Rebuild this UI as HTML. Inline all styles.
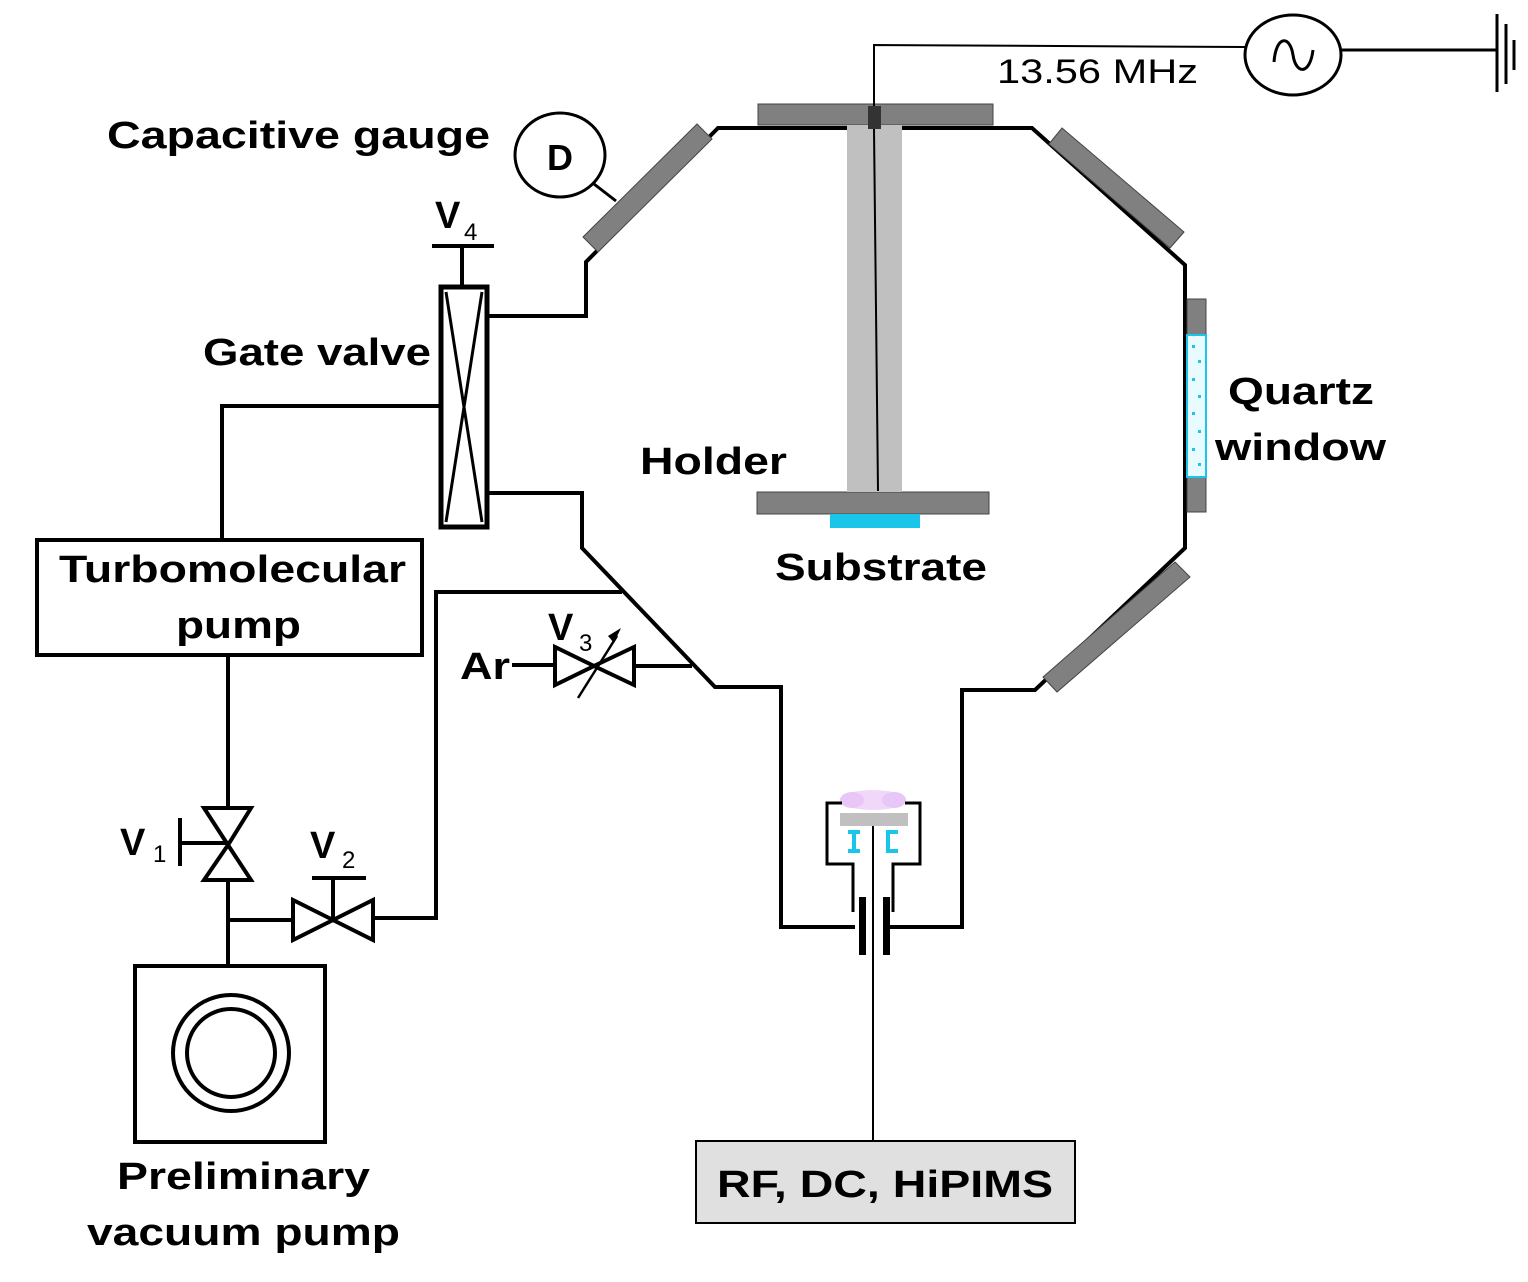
<!DOCTYPE html>
<html><head><meta charset="utf-8"><style>html,body{margin:0;padding:0;background:#fff}svg{display:block}</style></head>
<body>
<svg width="1528" height="1282" viewBox="0 0 1528 1282" xmlns="http://www.w3.org/2000/svg" font-family="Liberation Sans, sans-serif">
<rect width="1528" height="1282" fill="#fff"/>
<g fill="none" stroke="#000" stroke-width="4" stroke-linejoin="miter">
<!-- chamber outline -->
<polyline points="488,316 586,316 586,262 718,128 1032,128 1185,265 1185,548 1035,690 962,690 962,927 890,927"/>
<polyline points="488,493 582,493 582,548 715,687 781,687 781,927 855,927"/>
</g>
<!-- windows -->
<g fill="#808080" stroke="#444" stroke-width="1">
<polygon points="583,237 697,124 712,139 598,252"/>
<polygon points="1062,128 1184,232 1170,248 1049,144"/>
<polygon points="1175,562 1190,577 1057,692 1043,677"/>
<rect x="1187" y="299" width="19" height="213"/>
<rect x="758" y="104" width="235" height="21"/>
<rect x="757" y="492" width="232" height="22"/>
</g>
<rect x="1187" y="335" width="19" height="142" fill="#e8fbff" stroke="#19c6ea" stroke-width="2"/>
<g fill="#19c6ea"><rect x="1192" y="345" width="3" height="3"/><rect x="1198" y="360" width="3" height="3"/><rect x="1192" y="378" width="3" height="3"/><rect x="1198" y="395" width="3" height="3"/><rect x="1192" y="412" width="3" height="3"/><rect x="1198" y="430" width="3" height="3"/><rect x="1192" y="448" width="3" height="3"/><rect x="1198" y="463" width="3" height="3"/></g>
<!-- holder -->
<rect x="847" y="125" width="55" height="367" fill="#c0c0c0"/>
<rect x="830" y="514" width="90" height="14" fill="#19c6ea"/>
<rect x="868" y="106" width="13" height="23" fill="#333"/>
<polyline points="874,106 874,45 1245,47" fill="none" stroke="#000" stroke-width="2"/>
<line x1="874" y1="129" x2="878" y2="491" stroke="#000" stroke-width="2"/>
<!-- RF source -->
<ellipse cx="1293" cy="55" rx="48" ry="40" fill="none" stroke="#000" stroke-width="3"/>
<path d="M1274,62 C1276,35 1290,35 1293,55 C1296,75 1310,75 1313,50" fill="none" stroke="#000" stroke-width="3"/>
<g stroke="#000" stroke-width="3"><line x1="1341" y1="50" x2="1497" y2="50"/><line x1="1497" y1="14" x2="1497" y2="92"/><line x1="1506" y1="24" x2="1506" y2="84"/><line x1="1514" y1="40" x2="1514" y2="70"/></g>
<!-- gauge -->
<ellipse cx="560" cy="155" rx="45" ry="42" fill="#fff" stroke="#000" stroke-width="3"/>
<line x1="594" y1="184" x2="616" y2="201" stroke="#000" stroke-width="3"/>
<text x="560" y="170" font-size="36" font-weight="bold" text-anchor="middle">D</text>
<!-- gate valve -->
<g stroke="#000" fill="none">
<rect x="441" y="287" width="46" height="240" stroke-width="5"/>
<line x1="446" y1="292" x2="482" y2="522" stroke-width="3"/>
<line x1="482" y1="292" x2="446" y2="522" stroke-width="3"/>
<line x1="462" y1="246" x2="462" y2="287" stroke-width="4"/>
<line x1="432" y1="246" x2="494" y2="246" stroke-width="4"/>
<polyline points="440,406 222,406 222,540" stroke-width="4"/>
<rect x="37" y="540" width="385" height="115" stroke-width="4"/>
<line x1="228" y1="655" x2="228" y2="808" stroke-width="4"/>
<polygon points="204,808 251,808 228,845" stroke-width="4" stroke-linejoin="miter"/>
<polygon points="228,845 204,880 251,880" stroke-width="4"/>
<line x1="180" y1="843" x2="228" y2="843" stroke-width="4"/>
<line x1="180" y1="818" x2="180" y2="866" stroke-width="4"/>
<line x1="228" y1="880" x2="228" y2="965" stroke-width="4"/>
<line x1="228" y1="920" x2="293" y2="920" stroke-width="4"/>
<polygon points="293,900 293,940 333,920" stroke-width="4"/>
<polygon points="373,900 373,940 333,920" stroke-width="4"/>
<line x1="333" y1="920" x2="333" y2="878" stroke-width="4"/>
<line x1="312" y1="878" x2="366" y2="878" stroke-width="4"/>
<polyline points="373,918 436,918 436,592 622,592" stroke-width="4"/>
<line x1="512" y1="665" x2="555" y2="665" stroke-width="4"/>
<polygon points="555,647 555,685 594,666" stroke-width="4"/>
<polygon points="634,647 634,685 594,666" stroke-width="4"/>
<line x1="634" y1="666" x2="692" y2="666" stroke-width="4"/>
<line x1="578" y1="698" x2="617" y2="636" stroke-width="2.5"/>
<rect x="135" y="966" width="190" height="176" stroke-width="4"/>
<circle cx="231" cy="1053" r="58" stroke-width="4"/>
<circle cx="231" cy="1053" r="44" stroke-width="4"/>
<line x1="873" y1="955" x2="873" y2="1141" stroke-width="2"/>
</g>
<polygon points="621,628 614,643 608,636" fill="#000"/>
<rect x="696" y="1141" width="379" height="82" fill="#e0e0e0" stroke="#000" stroke-width="2"/>
<!-- magnetron -->
<ellipse cx="873" cy="800" rx="33" ry="10" fill="#f0d8fb"/>
<ellipse cx="852" cy="800" rx="12" ry="8" fill="#e8c6f7"/>
<ellipse cx="894" cy="800" rx="12" ry="8" fill="#e8c6f7"/>
<polyline points="842,803 827,803 827,864 853,864 853,912" fill="none" stroke="#000" stroke-width="3"/>
<polyline points="905,803 920,803 920,864 893,864 893,912" fill="none" stroke="#000" stroke-width="3"/>
<rect x="840" y="813" width="68" height="13" fill="#c0c0c0"/>
<g fill="#19c6ea"><rect x="848" y="830" width="12" height="4"/><rect x="848" y="849" width="12" height="4"/><rect x="852" y="834" width="4" height="15"/><rect x="886" y="830" width="12" height="4"/><rect x="886" y="849" width="12" height="4"/><rect x="886" y="834" width="4" height="15"/></g>
<line x1="873" y1="826" x2="873" y2="955" stroke="#000" stroke-width="2"/>
<rect x="859" y="897" width="7" height="58" fill="#000"/>
<rect x="883" y="897" width="7" height="58" fill="#000"/>
<!-- text -->
<g font-weight="bold" font-size="38" fill="#000">
<text x="107" y="148" textLength="383" lengthAdjust="spacingAndGlyphs">Capacitive gauge</text>
<text x="203" y="365" textLength="228" lengthAdjust="spacingAndGlyphs">Gate valve</text>
<text x="640" y="474" textLength="147" lengthAdjust="spacingAndGlyphs">Holder</text>
<text x="775" y="580" textLength="212" lengthAdjust="spacingAndGlyphs">Substrate</text>
<text x="1228" y="404" textLength="146" lengthAdjust="spacingAndGlyphs">Quartz</text>
<text x="1215" y="460" textLength="171" lengthAdjust="spacingAndGlyphs">window</text>
<text x="59" y="582" textLength="347" lengthAdjust="spacingAndGlyphs">Turbomolecular</text>
<text x="176" y="638" textLength="125" lengthAdjust="spacingAndGlyphs">pump</text>
<text x="117" y="1189" textLength="253" lengthAdjust="spacingAndGlyphs">Preliminary</text>
<text x="87" y="1245" textLength="313" lengthAdjust="spacingAndGlyphs">vacuum pump</text>
<text x="717" y="1197" textLength="336" lengthAdjust="spacingAndGlyphs">RF, DC, HiPIMS</text>
<text x="460" y="679" textLength="50" lengthAdjust="spacingAndGlyphs">Ar</text>
<text x="435" y="228">V</text><text x="120" y="855">V</text><text x="310" y="858">V</text><text x="548" y="640">V</text>
</g>
<g font-size="24" fill="#000">
<text x="464" y="240">4</text><text x="153" y="862">1</text><text x="342" y="868">2</text><text x="579" y="651">3</text>
</g>
<text x="997" y="83" font-size="34" fill="#000" textLength="201" lengthAdjust="spacingAndGlyphs">13.56 MHz</text>
</svg>
</body></html>
